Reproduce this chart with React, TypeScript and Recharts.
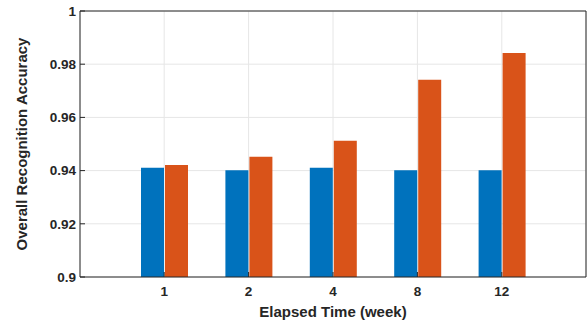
import React from 'react';
import { BarChart, Bar, XAxis, YAxis, CartesianGrid } from 'recharts';

const categories = ['1', '2', '4', '8', '12'];
const seriesA = [0.9411, 0.9401, 0.9411, 0.9401, 0.9401];
const seriesB = [0.9421, 0.9452, 0.9512, 0.9742, 0.9842];
const yTicks = [0.9, 0.92, 0.94, 0.96, 0.98, 1];

const data = categories.map((c, i) => ({ label: c, a: seriesA[i], b: seriesB[i] }));

const FONT = 'Liberation Sans, Arial, Helvetica, sans-serif';
const AX = '#262626';

const fmtY = (v: number) => (v === 1 ? '1' : v === 0.9 ? '0.9' : String(Number(v.toFixed(2))));

export default function App() {
  return (
    <div style={{ position: 'absolute', left: 0, top: 0, width: 587, height: 324, background: '#fff' }}>
      <BarChart
        width={587}
        height={324}
        data={data}
        margin={{ top: 10, right: 0, bottom: 0, left: 0 }}
        barSize={23}
        barGap={1}
      >
        <CartesianGrid xAxisId="main" yAxisId="main" stroke="#e6e6e6" strokeWidth={1} />
        <XAxis
          dataKey="label"
          xAxisId="main"
          type="category"
          padding={{ left: 42, right: 42 }}
          height={47}
          stroke={AX}
          tickSize={-5}
          tickMargin={14}
          tick={{ fill: AX, fontSize: 13.5, fontWeight: 'bold', fontFamily: FONT }}
          label={{ value: 'Elapsed Time (week)', position: 'insideBottom', offset: 7, fill: AX, fontSize: 15, fontWeight: 'bold', fontFamily: FONT }}
        />
        <XAxis
          dataKey="label"
          xAxisId="top"
          orientation="top"
          type="category"
          padding={{ left: 42, right: 42 }}
          height={1}
          stroke={AX}
          tickSize={-5}
          tick={false}
        />
        <YAxis
          yAxisId="main"
          type="number"
          domain={[0.9, 1]}
          ticks={yTicks}
          allowDataOverflow
          width={80}
          stroke={AX}
          tickSize={-5}
          tickMargin={9}
          tickFormatter={fmtY}
          tick={{ fill: AX, fontSize: 13.5, fontWeight: 'bold', fontFamily: FONT }}
          label={{ value: 'Overall Recognition Accuracy', angle: -90, position: 'insideLeft', offset: 22, style: { textAnchor: 'middle' }, fill: AX, fontSize: 15, fontWeight: 'bold', fontFamily: FONT }}
        />
        <YAxis
          yAxisId="right"
          orientation="right"
          type="number"
          domain={[0.9, 1]}
          ticks={yTicks}
          allowDataOverflow
          width={1}
          stroke={AX}
          tickSize={-5}
          tick={false}
        />
        <Bar dataKey="a" xAxisId="main" yAxisId="main" fill="#0072BD" isAnimationActive={false} />
        <Bar dataKey="b" xAxisId="main" yAxisId="main" fill="#D95319" isAnimationActive={false} />
      </BarChart>
    </div>
  );
}
